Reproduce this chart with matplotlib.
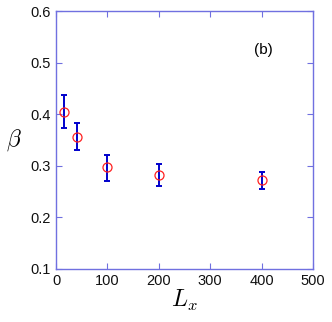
import matplotlib
matplotlib.use("Agg")
import matplotlib.pyplot as plt

Lx = [15, 40, 100, 200, 400]
beta = [0.405, 0.357, 0.297, 0.282, 0.273]
err_low = [0.032, 0.026, 0.026, 0.021, 0.017]
err_high = [0.033, 0.026, 0.025, 0.021, 0.016]
xticks = [0, 100, 200, 300, 400, 500]
yticks = [0.1, 0.2, 0.3, 0.4, 0.5, 0.6]

plt.rcParams['font.family'] = ['Liberation Sans', 'DejaVu Sans']
plt.rcParams['mathtext.fontset'] = 'cm'

fig = plt.figure(figsize=(3.32, 3.22), dpi=100)
ax = fig.add_axes([0.1687, 0.1646, 0.9428 - 0.1687, 0.965 - 0.1646])

ax.errorbar(Lx, beta, yerr=[err_low, err_high], fmt='none', ecolor='#0000cc',
            elinewidth=1.4, capsize=2.5, capthick=1.4)
ax.plot(Lx, beta, 'o', mfc='none', mec='#ff2020', ms=6.5, mew=0.9)

ax.set_xlim(0, 500)
ax.set_ylim(0.1, 0.6)
ax.set_xticks(xticks)
ax.set_yticks(yticks)
ax.set_xticklabels([str(t) for t in xticks])
ax.set_yticklabels([f"{t:.1f}" for t in yticks])
ax.tick_params(direction='in', length=4, color='#7070e0', labelsize=10.5, top=True, right=True,
               labeltop=False, labelright=False, labelcolor='#111111')
for s in ax.spines.values():
    s.set_color('#7070e0')
    s.set_linewidth(1.0)

ax.set_xlabel(r'$L_x$', fontsize=17, labelpad=0)
ax.set_ylabel(r'$\beta$', fontsize=17, rotation=0, va='center', ha='center')
ax.yaxis.set_label_coords(-0.165, 0.50)
ax.text(403, 0.525, '(b)', fontsize=11, ha='center', va='center')

fig.savefig('out.png', dpi=100)
